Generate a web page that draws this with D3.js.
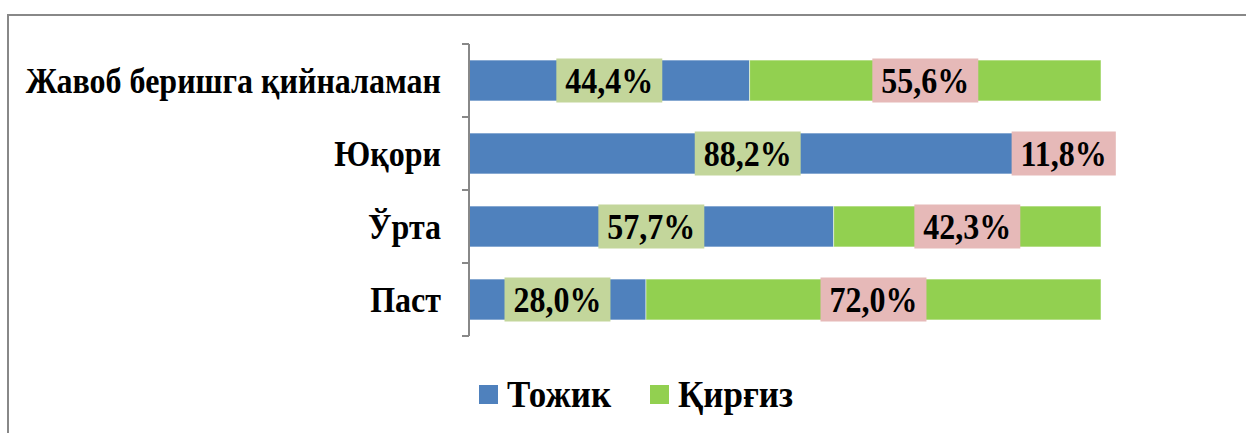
<!DOCTYPE html>
<html>
<head>
<meta charset="utf-8">
<script src="https://cdn.jsdelivr.net/npm/d3@7"></script>
<style>
  body { margin: 0; background: #fff; }
</style>
</head>
<body>
<div id="chart"></div>
<script>
// Data
const categories = ["Жавоб беришга қийналаман", "Юқори", "Ўрта", "Паст"];
const tojik = [44.4, 88.2, 57.7, 28.0];
const kirgiz = [55.6, 11.8, 42.3, 72.0];
const seriesNames = ["Тожик", "Қирғиз"];

const W = 1246, H = 433;
const FONT = "Liberation Serif";
const colors = ["#4f81bd", "#92d050"];
const labelBg = ["#c3d69b", "#e6b9b8"];
const stretch = 1.13;   // text in the picture is a bit taller than wide

const svg = d3.select("#chart").append("svg")
    .attr("width", W)
    .attr("height", H);

// outer chart border (cut off right and bottom)
svg.append("rect")
    .attr("x", 8).attr("y", 15)
    .attr("width", W + 20).attr("height", H + 20)
    .attr("fill", "none")
    .attr("stroke", "#888")
    .attr("stroke-width", 2);

const x = d3.scaleLinear().domain([0, 100]).range([469, 1101]);
const y = d3.scaleBand()
    .domain(categories)
    .range([44, 336])
    .paddingInner(0.44)
    .paddingOuter(0.22);

// stacked rows
const rows = categories.map((c, i) => ({
    cat: c,
    segs: [
        { s: 0, x0: 0, x1: tojik[i], v: tojik[i] },
        { s: 1, x0: tojik[i], x1: tojik[i] + kirgiz[i], v: kirgiz[i] }
    ]
}));

const g = svg.append("g");

rows.forEach(r => {
    r.segs.forEach(d => {
        g.append("rect")
            .attr("x", x(d.x0))
            .attr("y", y(r.cat))
            .attr("width", x(d.x1) - x(d.x0))
            .attr("height", y.bandwidth())
            .attr("fill", colors[d.s])
            .attr("stroke", "#fff")
            .attr("stroke-opacity", 0.5)
            .attr("stroke-width", 1);
    });
});

// axis line
svg.append("g")
    .attr("transform", `translate(${x(0)},0)`)
    .call(d3.axisLeft(y).tickSize(0).tickFormat(""))
    .call(a => a.select(".domain").attr("stroke", "#888").attr("stroke-width", 2)
        .attr("d", `M0,${y.range()[0]}V${y.range()[1]}`));

// tick marks between categories
const tickYs = [y.range()[0]].concat(categories.map(c => y(c) + y.bandwidth() + y.step() * 0.22));
svg.append("g").selectAll("line")
    .data(tickYs)
    .join("line")
    .attr("x1", x(0) - 7).attr("x2", x(0))
    .attr("y1", d => d).attr("y2", d => d)
    .attr("stroke", "#888")
    .attr("stroke-width", 2);

// category labels
svg.append("g").selectAll("text")
    .data(categories)
    .join("text")
    .attr("text-anchor", "end")
    .attr("font-family", FONT)
    .attr("font-weight", "bold")
    .attr("font-size", 32)
    .attr("fill", "#000")
    .attr("transform", d => `translate(441,${y(d) + y.bandwidth() / 2 + 12}) scale(1,${stretch})`)
    .text(d => d);

// data labels with boxes
const fmt = v => v.toFixed(1).replace(".", ",") + "%";
rows.forEach(r => {
    r.segs.forEach(d => {
        const cx = (x(d.x0) + x(d.x1)) / 2;
        const cy = y(r.cat) + y.bandwidth() / 2;
        const lg = g.append("g");
        const t = lg.append("text")
            .attr("text-anchor", "middle")
            .attr("font-family", FONT)
            .attr("font-weight", "bold")
            .attr("font-size", 32)
            .attr("fill", "#000")
            .attr("transform", `translate(${cx},${cy + 12}) scale(1,${stretch})`)
            .text(fmt(d.v));
        const tw = t.node().getComputedTextLength();
        lg.insert("rect", "text")
            .attr("x", cx - tw / 2 - 9)
            .attr("y", cy - 22)
            .attr("width", tw + 18)
            .attr("height", 44)
            .attr("fill", labelBg[d.s]);
    });
});

// legend
const legend = svg.append("g");
const legX = [479, 650];
seriesNames.forEach((n, i) => {
    legend.append("rect")
        .attr("x", legX[i]).attr("y", 385)
        .attr("width", 19).attr("height", 19)
        .attr("fill", colors[i]);
    legend.append("text")
        .attr("font-family", FONT)
        .attr("font-weight", "bold")
        .attr("font-size", 35)
        .attr("fill", "#000")
        .attr("transform", `translate(${legX[i] + 28},407) scale(1,1.08)`)
        .text(n);
});
</script>
</body>
</html>
